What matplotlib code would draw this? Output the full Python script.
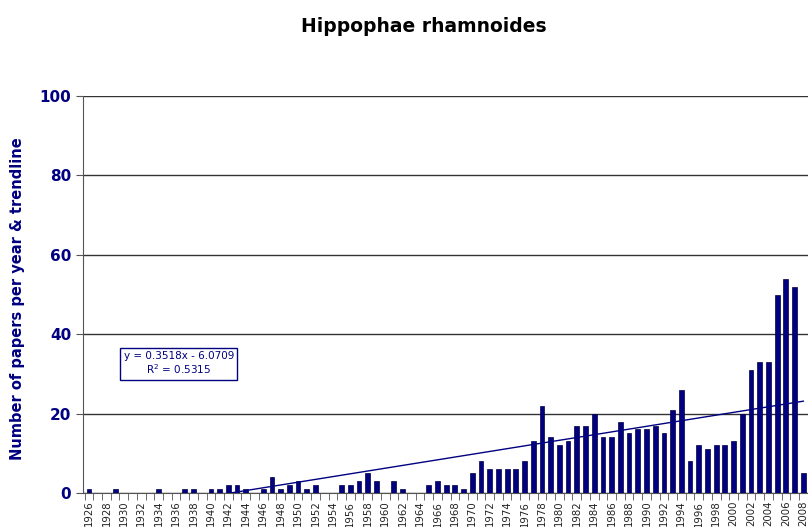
import numpy as np
import matplotlib.pyplot as plt

# papers per year
years = list(range(1926, 2009))
papers = [1, 0, 0, 1, 0, 0, 0, 0, 1, 0,
          0, 1, 1, 0, 1, 1, 2, 2, 1, 0,
          1, 4, 1, 2, 3, 1, 2, 0, 0, 2,
          2, 3, 5, 3, 0, 3, 1, 0, 0, 2,
          3, 2, 2, 1, 5, 8, 6, 6, 6, 6,
          8, 13, 22, 14, 12, 13, 17, 17, 20, 14,
          14, 18, 15, 16, 16, 17, 15, 21, 26, 8,
          12, 11, 12, 12, 13, 20, 31, 33, 33, 50,
          54, 52, 5]
tick_years = years[::2]

# linear trendline as given on the chart (x = 1 for first year)
slope = 0.3518
intercept = -6.0709
eq_text = 'y = 0.3518x - 6.0709\nR$^2$ = 0.5315'

navy = '#000080'

fig = plt.figure(figsize=(8.08, 5.27), dpi=100)
ax = fig.add_axes([83 / 808, 34 / 527, 729 / 808, 397 / 527])

ax.bar(years, papers, width=0.55, color=navy, edgecolor='#000040', linewidth=0.5, zorder=3)

idx = np.arange(1, len(years) + 1)
ax.plot(years, slope * idx + intercept, color=navy, lw=1, zorder=4)

ax.set_ylim(0, 100)
ax.set_xlim(1925.31, 2009.0)
ax.set_yticks(range(0, 101, 20))
ax.yaxis.grid(True, color='#333333', lw=1)
ax.set_axisbelow(True)

ax.set_xticks(tick_years)
ax.set_xticklabels([str(y) for y in tick_years], rotation=90, fontsize=7.3, color='#222222')
ax.set_xticks(np.arange(1925.5, 2009, 1), minor=True)
ax.tick_params(axis='x', which='major', length=0, pad=5.5)
ax.tick_params(axis='x', which='minor', length=5, color='#555555')
ax.tick_params(axis='y', length=5, color='#555555', labelcolor=navy, labelsize=11)
for lab in ax.get_yticklabels():
    lab.set_fontweight('bold')

for s in ['top', 'right']:
    ax.spines[s].set_visible(False)
ax.spines['left'].set_color('#555555')
ax.spines['bottom'].set_color('#555555')

ax.set_ylabel('Number of papers per year & trendline', color=navy,
              fontsize=10.5, fontweight='bold')
ax.yaxis.set_label_coords(-0.0796, 0.49)

ax.text(1936.3, 32.5, eq_text, ha='center', va='center', fontsize=7.5, color=navy,
        linespacing=1.1,
        bbox=dict(boxstyle='square,pad=0.3', fc='white', ec=navy, lw=1), zorder=5)

fig.text(424 / 808, 1 - 27 / 527, 'Hippophae rhamnoides', ha='center', va='center',
         fontsize=13.5, fontweight='bold', color='black')

fig.savefig('out.png', dpi=100)
